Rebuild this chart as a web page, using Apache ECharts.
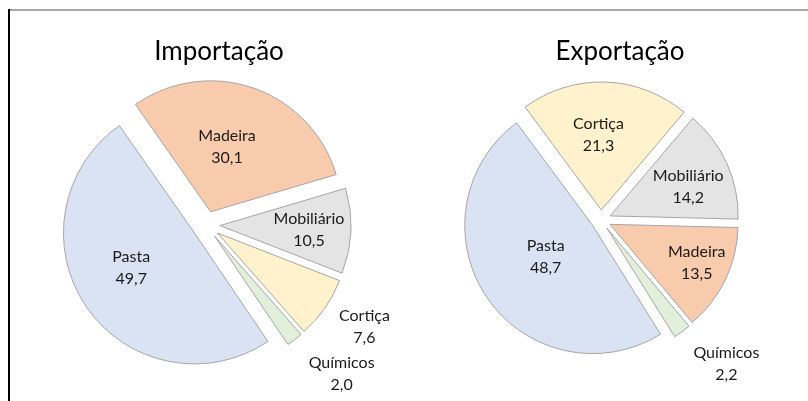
<!DOCTYPE html>
<html>
<head>
<meta charset="utf-8">
<script src="https://cdn.jsdelivr.net/npm/echarts@6/dist/echarts.min.js"></script>
<style>
  html, body { margin: 0; padding: 0; background: #fff; }
  #main { width: 808px; height: 401px; }
</style>
</head>
<body>
<div id="main"></div>
<script>
// dados
var importCats = ['Madeira', 'Mobiliário', 'Cortiça', 'Químicos', 'Pasta'];
var importVals = [30.1, 10.5, 7.6, 2.0, 49.7];
var exportCats = ['Cortiça', 'Mobiliário', 'Madeira', 'Químicos', 'Pasta'];
var exportVals = [21.3, 14.2, 13.5, 2.2, 48.7];

var colors = {
    'Pasta': '#DAE3F3',
    'Madeira': '#F8CBAD',
    'Mobiliário': '#E4E4E4',
    'Cortiça': '#FFF2CC',
    'Químicos': '#E2EFDA'
};

// geometria de cada tarte (angulo inicial a partir das 12h, sentido horario)
var geomImp = {
    center: [206, 225], r: 131, off: 14, start: -35,
    labels: { 'Madeira': [0.51, -5], 'Mobiliário': [0.68, 0.5], 'Cortiça': [1.33, -2.5], 'Químicos': [1.43, -5], 'Pasta': [0.55, 6] }
};
var geomExp = {
    center: [601, 220], r: 128, off: 10, start: -36.5,
    labels: { 'Cortiça': [0.59, -4], 'Mobiliário': [0.65, 4], 'Madeira': [0.74, -2], 'Químicos': [1.41, -5.5], 'Pasta': [0.44, 1] }
};

function fmt(v) {
    return v.toFixed(1).replace('.', ',');
}

function makeLabelLayout(cats, vals, g) {
    var total = vals.reduce(function (a, b) { return a + b; }, 0);
    return function (params) {
        var i = params.dataIndex;
        var before = 0;
        for (var k = 0; k < i; k++) before += vals[k];
        var mid = g.start + (before + vals[i] / 2) / total * 360;
        var m = mid * Math.PI / 180;
        var p = g.labels[cats[i]];
        var a = (mid + p[1]) * Math.PI / 180;
        var cx = g.center[0] + g.off * Math.sin(m);
        var cy = g.center[1] - g.off * Math.cos(m);
        return {
            x: cx + p[0] * g.r * Math.sin(a),
            y: cy - p[0] * g.r * Math.cos(a),
            align: 'center',
            verticalAlign: 'middle'
        };
    };
}

// fatias destacadas
function makeSeries(cats, vals, g) {
    return {
        type: 'pie',
        center: g.center,
        radius: g.r,
        startAngle: 90 - g.start,
        clockwise: true,
        selectedMode: 'multiple',
        selectedOffset: g.off,
        silent: true,
        itemStyle: { borderColor: '#A6A6A6', borderWidth: 1 },
        label: { show: false },
        labelLine: { show: false },
        emphasis: { disabled: true },
        data: cats.map(function (c, i) {
            return { name: c, value: vals[i], selected: true, itemStyle: { color: colors[c] } };
        })
    };
}

// so os rotulos
function makeLabels(cats, vals, g) {
    return {
        type: 'pie',
        center: g.center,
        radius: g.r,
        startAngle: 90 - g.start,
        clockwise: true,
        avoidLabelOverlap: false,
        silent: true,
        z: 3,
        itemStyle: { color: 'rgba(0,0,0,0)', borderWidth: 0 },
        label: {
            show: true,
            position: 'inside',
            fontFamily: 'Lato',
            fontSize: 16,
            lineHeight: 22,
            color: '#1a1a1a',
            formatter: function (p) { return p.name + '\n' + fmt(p.value); }
        },
        labelLine: { show: false },
        labelLayout: makeLabelLayout(cats, vals, g),
        emphasis: { disabled: true },
        data: cats.map(function (c, i) { return { name: c, value: vals[i] }; })
    };
}

var myChart = echarts.init(document.getElementById('main'));
var option = {
    animation: false,
    backgroundColor: '#fff',
    title: [
        { text: 'Importação', left: 214, top: 34, textAlign: 'center',
          textStyle: { fontFamily: 'Lato', fontSize: 26, fontWeight: 'normal', color: '#000' } },
        { text: 'Exportação', left: 615, top: 34, textAlign: 'center',
          textStyle: { fontFamily: 'Lato', fontSize: 26, fontWeight: 'normal', color: '#000' } }
    ],
    graphic: [
        { type: 'rect', shape: { x: 9, y: 9, width: 799, height: 2 }, style: { fill: '#A6A6A6' } },
        { type: 'rect', shape: { x: 8, y: 9, width: 2, height: 392 }, style: { fill: '#000' } }
    ],
    series: [
        makeSeries(importCats, importVals, geomImp),
        makeSeries(exportCats, exportVals, geomExp),
        makeLabels(importCats, importVals, geomImp),
        makeLabels(exportCats, exportVals, geomExp)
    ]
};
myChart.setOption(option);
</script>
</body>
</html>
